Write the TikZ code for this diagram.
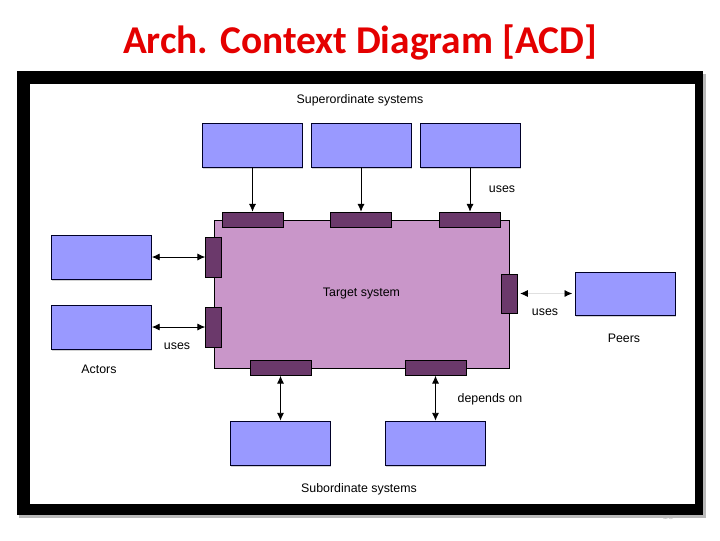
\documentclass[tikz,border=0pt]{standalone}
\usepackage{fontspec}
\setmainfont{Liberation Sans}
\newfontfamily\titlefont{Carlito}
\usetikzlibrary{arrows.meta,shadows}

\definecolor{boxblue}{RGB}{153,153,255}
\definecolor{targetpink}{RGB}{201,150,201}
\definecolor{portpurple}{RGB}{107,57,107}
\definecolor{titlered}{RGB}{228,0,0}

\tikzset{
  sysbox/.style={draw=black!85!blue, semithick, fill=boxblue, minimum width=2.5cm, minimum height=1.1cm, inner sep=0pt,
    drop shadow={shadow xshift=0.6pt, shadow yshift=-1.6pt, opacity=0.35}},
  hport/.style={draw=black, fill=portpurple, minimum width=1.525cm, minimum height=0.375cm, inner sep=0pt},
  vport/.style={draw=black, fill=portpurple, minimum width=0.4cm, minimum height=1cm, inner sep=0pt},
  lbl/.style={font=\fontsize{8.8}{10}\selectfont, inner sep=0pt},
  link/.style={-{Latex[length=5.5pt,width=5pt]}, semithick},
  dlink/.style={{Latex[length=5.5pt,width=5pt]}-{Latex[length=5.5pt,width=5pt]}, semithick}
}

\begin{document}
\begin{tikzpicture}[x=0.025cm, y=-0.025cm]
    \useasboundingbox (0,0) rectangle (720,540);

    % title
    \node[font=\titlefont\bfseries\fontsize{28}{32}\selectfont, text=titlered] (title) at (360,42) {Arch. Context Diagram [ACD]};

    % slide number and frame
    \node[font=\fontsize{7}{8}\selectfont, text=gray!40] (pagenum) at (668,516) {13};
    \fill[gray!55] (19,74) rectangle (706,518);
    \fill[black] (17,71) rectangle (703,515);
    \fill[white] (30,84) rectangle (695,504);

    % target system and its ports
    \node[draw=black, fill=targetpink, minimum width=7.375cm, minimum height=3.7cm, lbl] (target) at (361.5,294) {Target system};
    \node[hport] (ptop1) at (252.5,219.5) {};
    \node[hport] (ptop2) at (361,219.5) {};
    \node[hport] (ptop3) at (470,219.5) {};
    \node[vport] (pleft1) at (213.5,257) {};
    \node[vport] (pleft2) at (213.5,327) {};
    \node[vport, minimum height=0.975cm] (pright) at (509,293.5) {};
    \node[hport] (pbot1) at (280.5,368) {};
    \node[hport] (pbot2) at (435.5,368) {};

    % surrounding systems
    \node[sysbox] (sup1) at (252.5,145) {};
    \node[sysbox] (sup2) at (361,145) {};
    \node[sysbox] (sup3) at (470,145) {};
    \node[sysbox] (actor1) at (101.5,257) {};
    \node[sysbox] (actor2) at (101.5,327) {};
    \node[sysbox, minimum height=1.075cm] (peer) at (625.5,293.5) {};
    \node[sysbox] (sub1) at (280.5,443) {};
    \node[sysbox] (sub2) at (435.5,443) {};

    % connectors
    \draw[link] (sup1.south) -- (ptop1.north);
    \draw[link] (sup2.south) -- (ptop2.north);
    \draw[link] (sup3.south) -- (ptop3.north);
    \draw[dlink] (actor1.east) -- (pleft1.west);
    \draw[dlink] (actor2.east) -- (pleft2.west);
    \draw[dlink, draw=black!12, {Latex[length=5.5pt,width=5pt,black]}-{Latex[length=5.5pt,width=5pt,black]}, shorten <=2pt, shorten >=2pt] (pright.east) -- (peer.west);
    \draw[dlink] (pbot1.south) -- (sub1.north);
    \draw[dlink] (pbot2.south) -- (sub2.north);

    % labels
    \node[lbl] (supl) at (360,100) {Superordinate systems};
    \node[lbl] (usestop) at (502,189) {uses};
    \node[lbl] (usesright) at (545,312) {uses};
    \node[lbl] (peersl) at (624,338) {Peers};
    \node[lbl] (usesleft) at (177,346) {uses};
    \node[lbl] (actorsl) at (99,369) {Actors};
    \node[lbl] (dependsl) at (490,399) {depends on};
    \node[lbl] (subl) at (359,489) {Subordinate systems};
\end{tikzpicture}
\end{document}
